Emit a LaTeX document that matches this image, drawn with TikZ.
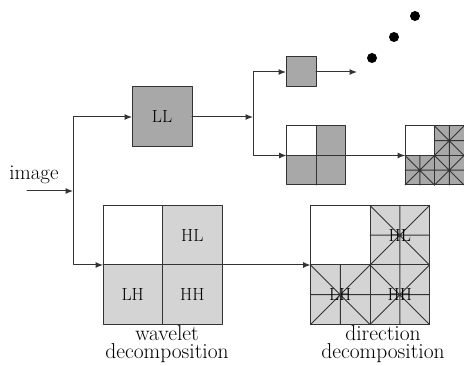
\documentclass[tikz,border=0pt]{standalone}
\usetikzlibrary{arrows.meta}

% one quadrant split into a 2x2 grid with both diagonals
\newcommand{\dircell}[4]{% centre x, centre y, half width, half height
  \draw[conn] (#1-#3,#2) -- (#1+#3,#2) (#1,#2-#4) -- (#1,#2+#4)
    (#1-#3,#2-#4) -- (#1+#3,#2+#4) (#1-#3,#2+#4) -- (#1+#3,#2-#4);
  \fill[edge] (#1,#2) circle [radius=1.1];
}

\begin{document}
\begin{tikzpicture}[yscale=-1, x=1pt, y=1pt, line join=round, line cap=round,
  conn/.style={draw=edge, line width=1pt},
  arr/.style={conn, -{Latex[length=7.5pt, width=6pt]}},
  box/.style={conn, minimum size=#1, inner sep=0pt, outer sep=0pt},
  area/.style={minimum size=#1, inner sep=0pt, outer sep=0pt},
  lbl/.style={font=\fontsize{17.5}{18}\selectfont, inner sep=0pt},
  capt/.style={font=\fontsize{21.5}{17.5}\selectfont, inner sep=0pt, align=center, anchor=north}]
% Colour definitions
\definecolor{edge}{rgb}{0.2,0.2,0.2}
\definecolor{dark}{rgb}{0.66,0.66,0.66}
\definecolor{light}{rgb}{0.83,0.83,0.83}
% End of colour definitions
\useasboundingbox (0,0) rectangle (464,366);

% input
\node[font=\fontsize{21}{22}\selectfont, inner sep=0pt, anchor=base] (img) at (34,180) {image};
\coordinate (in) at (27,191);
\coordinate (s1) at (73,191);
\draw[arr] (in) -- (s1);

% low-pass branch
\node[box=60, fill=dark, lbl] (ll) at (162,117) {LL};
\draw[arr] (s1) |- (ll.west);

% wavelet decomposition
\node[area=119] (wav) at (162.5,265) {};
\fill[light] (wav.north) rectangle (wav.east);
\fill[light] (wav.west) rectangle (wav.south east);
\draw[conn] (wav.north west) rectangle (wav.south east)
  (wav.north) -- (wav.south) (wav.west) -- (wav.east);
\node[lbl] (whl) at (192.25,235.25) {HL};
\node[lbl] (wlh) at (132.75,294.75) {LH};
\node[lbl] (whh) at (192.25,294.75) {HH};
\node[capt] (wcap) at (167,325.5) {wavelet\\decomposition};
\draw[arr] (s1) |- (wav.west);

% direction decomposition
\node[area=119] (dir) at (370,265) {};
\fill[light] (dir.north) rectangle (dir.east);
\fill[light] (dir.west) rectangle (dir.south east);
\dircell{399.75}{235.25}{29.75}{29.75}
\dircell{340.25}{294.75}{29.75}{29.75}
\dircell{399.75}{294.75}{29.75}{29.75}
\draw[conn] (dir.north west) rectangle (dir.south east)
  (dir.north) -- (dir.south) (dir.west) -- (dir.east);
\node[lbl] (dhl) at (399.75,235.25) {HL};
\node[lbl] (dlh) at (340.25,294.75) {LH};
\node[lbl] (dhh) at (399.75,294.75) {HH};
\node[capt] (dcap) at (383,325.5) {direction\\decomposition};
\draw[arr] (wav.east) -- (dir.west);

% next level
\coordinate (s2) at (253,117);
\draw[arr] (ll.east) -- (s2);
\node[box=30, fill=dark] (sm) at (301,72) {};
\draw[arr] (s2) |- (sm.west);
\coordinate (more) at (357,72);
\draw[arr] (sm.east) -- (more);
\foreach \x/\y in {372/58, 394/37, 415/16}
  \fill (\x,\y) circle [radius=5];

\node[area=59] (mid) at (316,155.5) {};
\fill[dark] (mid.north) rectangle (mid.east);
\fill[dark] (mid.west) rectangle (mid.south east);
\draw[conn] (mid.north west) rectangle (mid.south east)
  (mid.north) -- (mid.south) (mid.west) -- (mid.east);
\draw[arr] (s2) |- (mid.west);

\node[area=59] (rt) at (434.5,155.5) {};
\fill[dark] (rt.north) rectangle (rt.east);
\fill[dark] (rt.west) rectangle (rt.south east);
\dircell{449.25}{140.75}{14.75}{14.75}
\dircell{419.75}{170.25}{14.75}{14.75}
\dircell{449.25}{170.25}{14.75}{14.75}
\draw[conn] (rt.north west) rectangle (rt.south east)
  (rt.north) -- (rt.south) (rt.west) -- (rt.east);
\draw[arr] (mid.east) -- (rt.west);
\end{tikzpicture}
\end{document}
